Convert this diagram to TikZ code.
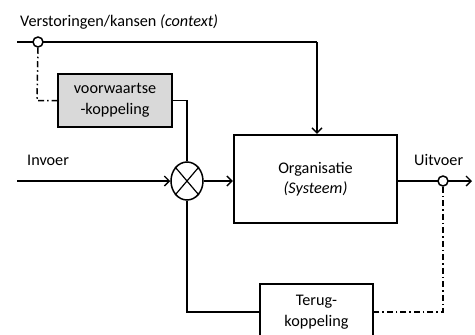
\documentclass[tikz,border=0pt]{standalone}
\usepackage{fontspec}
\setmainfont{Carlito}
\usetikzlibrary{arrows.meta,shapes.geometric}
\begin{document}
\begin{tikzpicture}[x=1pt,y=-1pt,
  font=\fontsize{16.2}{20.5}\selectfont,
  conn/.style={line width=1.5pt},
  arr/.style={conn,-{Straight Barb[length=5pt,width=10pt,line width=1.4pt]}},
  dashdot/.style={line width=1.5pt,dash pattern=on 6pt off 3pt on 1.5pt off 3pt},
  block/.style={draw,line width=2.2pt,rectangle,align=center,inner sep=0pt},
  tap/.style={draw,circle,line width=1.5pt,fill=white,minimum size=10pt,inner sep=0pt},
  lbl/.style={inner sep=0pt}]
\clip (0,0) rectangle (475,335);
\fill[white] (0,0) rectangle (475,335);

% blocks
\node[block,fill=gray!30,minimum width=114pt,minimum height=53pt] (ff) at (115,100.5)
  {voorwaartse\\-koppeling};
\node[block,minimum width=163pt,minimum height=88pt] (org) at (315.5,179)
  {Organisatie\\\textit{(Systeem)}};
\node[block,minimum width=113pt,minimum height=56pt] (fb) at (316.5,312)
  {Terug-\\koppeling};
\node[draw,ellipse,line width=1.5pt,minimum width=32pt,minimum height=38pt,inner sep=0pt] (sum) at (187,181) {};
\draw[line width=1.2pt] (sum.north west) -- (sum.south east) (sum.north east) -- (sum.south west);

% context line
\coordinate (ctxL) at (17,42);
\coordinate (ctxR) at (317,42);
\draw[conn] (ctxL) -- (ctxR);
\draw[arr] (ctxR) -- (ctxR |- org.north);
\node[tap] (ctx) at (38,42) {};

% feed-forward path
\coordinate (ffc) at (37,100.5);
\draw[dashdot] (ctx.south) -- (ffc) -- (ff.west);
\draw[conn] (ff.east) -| (sum.north);

% main flow
\coordinate (inL) at (17,181);
\draw[arr] (inL) -- (sum.west);
\draw[arr] (sum.east) -- (sum.east -| org.west);
\coordinate (outR) at (472,181);
\draw[arr] (org.east |- outR) -- (outR);
\node[tap] (out) at (443,181) {};

% feedback path
\coordinate (fbc) at (443,312);
\draw[dashdot] (out.south) -- (fbc) -- (fbc -| fb.east);
\draw[conn] (sum.south) |- (fb.west |- fbc);

% labels
\node[lbl,anchor=base west] (lctx) at (20,26) {Verstoringen/kansen \textit{(context)}};
\node[lbl,anchor=base west] (lin) at (27,165) {Invoer};
\node[lbl,anchor=base west] (lout) at (414,165) {Uitvoer};
\end{tikzpicture}
\end{document}
